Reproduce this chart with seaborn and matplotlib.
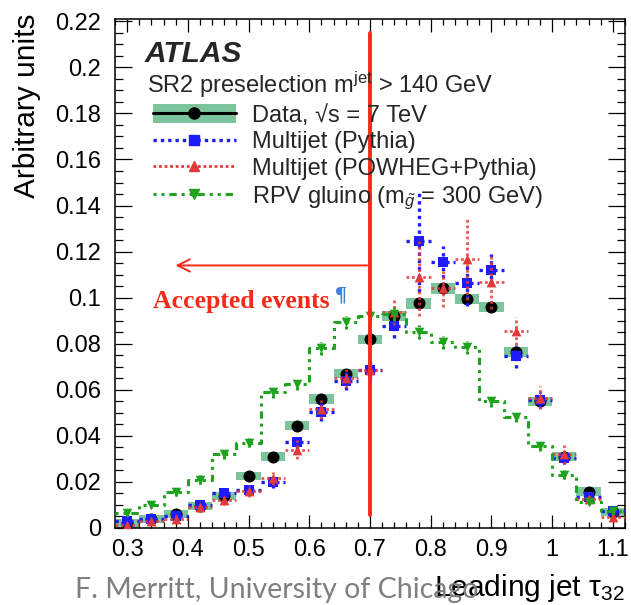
import numpy as np
import matplotlib
matplotlib.use("Agg")
import matplotlib.pyplot as plt
import seaborn as sns
from matplotlib.patches import Rectangle
from matplotlib.lines import Line2D
from matplotlib.legend_handler import HandlerTuple
from matplotlib.ticker import MultipleLocator, FormatStrFormatter

# Leading-jet tau32 bins (centres and edges)
bin_centers = [0.30, 0.34, 0.38, 0.42, 0.46, 0.50, 0.54, 0.58, 0.62, 0.66, 0.70,
               0.74, 0.78, 0.82, 0.86, 0.90, 0.94, 0.98, 1.02, 1.06, 1.10]
bin_edges = [0.28, 0.32, 0.36, 0.40, 0.44, 0.48, 0.52, 0.56, 0.60, 0.64, 0.68,
             0.72, 0.76, 0.80, 0.84, 0.88, 0.92, 0.96, 1.00, 1.04, 1.08, 1.12]

# Data, sqrt(s) = 7 TeV
data_vals = [0.002, 0.004, 0.006, 0.0095, 0.014, 0.0225, 0.031, 0.0445, 0.056, 0.067, 0.082,
             0.092, 0.0975, 0.104, 0.0995, 0.096, 0.0765, 0.055, 0.031, 0.0158, 0.007]
data_err = [0.0018, 0.0018, 0.0018, 0.0018, 0.0018, 0.0018, 0.0018, 0.0018, 0.002, 0.002, 0.002,
            0.0022, 0.0022, 0.0022, 0.0022, 0.0022, 0.0022, 0.002, 0.0018, 0.0018, 0.0018]

# Multijet (Pythia)
pythia_vals = [0.003, 0.004, 0.005, 0.010, 0.015, 0.0165, 0.020, 0.0375, 0.0505, 0.064, 0.0685,
               0.0875, 0.1245, 0.1155, 0.1065, 0.112, 0.0745, 0.0555, 0.0305, 0.0135, 0.0075]
pythia_err = [0.001, 0.001, 0.001, 0.0015, 0.0015, 0.002, 0.0025, 0.003, 0.004, 0.004, 0.004,
              0.005, 0.022, 0.007, 0.010, 0.007, 0.005, 0.0035, 0.0025, 0.002, 0.0012]

# Multijet (POWHEG+Pythia)
powheg_vals = [0.0013, 0.003, 0.004, 0.009, 0.012, 0.016, 0.0215, 0.034, 0.0515, 0.065, 0.0685,
               0.094, 0.109, 0.104, 0.117, 0.107, 0.0855, 0.0565, 0.032, 0.0125, 0.0048]
powheg_err = [0.001, 0.001, 0.0015, 0.002, 0.002, 0.0025, 0.003, 0.004, 0.004, 0.004, 0.005,
              0.006, 0.017, 0.008, 0.018, 0.012, 0.006, 0.005, 0.004, 0.002, 0.0015]

# RPV gluino (m = 300 GeV)
rpv_vals = [0.0065, 0.010, 0.0155, 0.021, 0.032, 0.037, 0.059, 0.0625, 0.078, 0.0893, 0.092,
            0.093, 0.085, 0.0806, 0.0784, 0.055, 0.0484, 0.0358, 0.0232, 0.0113, 0.0072]
rpv_err = [0.0015, 0.0015, 0.0018, 0.002, 0.002, 0.002, 0.0025, 0.0025, 0.0028, 0.0028, 0.003,
           0.003, 0.003, 0.0028, 0.0028, 0.0025, 0.0025, 0.0022, 0.002, 0.0015, 0.0012]

cut_value = 0.70
arrow_tip = 0.375
arrow_level = 0.114

x_ticks = [0.3, 0.4, 0.5, 0.6, 0.7, 0.8, 0.9, 1.0, 1.1]

BAND = "#7cc49c"
BLUE = "#1c1cff"
RED = "#e23a3a"
GREEN = "#1fa31f"
CUT = "#f72a17"
GREEN_LS = (0, (1.0, 1.6, 1.0, 1.6, 2.4, 1.6))

sns.set_theme(style="ticks")
plt.rcParams["font.family"] = ["Liberation Sans", "DejaVu Sans"]
plt.rcParams["mathtext.fontset"] = "custom"
plt.rcParams["mathtext.rm"] = "Liberation Sans"
plt.rcParams["mathtext.it"] = "Liberation Sans:italic"
plt.rcParams["mathtext.bf"] = "Liberation Sans:bold"

W, H = 631, 605
fig = plt.figure(figsize=(W / 100, H / 100), dpi=100)
ax = fig.add_axes([115 / W, 1 - 528 / H, 510 / W, 509 / H])

x = np.array(bin_centers)
half_bin = 0.02

# data: systematic band + points
d = np.array(data_vals)
de = np.array(data_err)
ax.bar(x, 2 * de, bottom=d - de, width=2 * half_bin, color=BAND, linewidth=0, zorder=2)
sns.scatterplot(x=x, y=d, ax=ax, color="black", marker="o", s=75, edgecolor="black",
                linewidth=0, zorder=3, legend=False)

# Pythia multijet
eb = ax.errorbar(x, pythia_vals, yerr=pythia_err, xerr=half_bin, fmt="none",
                 ecolor=BLUE, elinewidth=2.4, zorder=4)
for c in eb[2]:
    c.set_linestyle((0, (1, 1.2)))
sns.scatterplot(x=x, y=pythia_vals, ax=ax, color=BLUE, marker="s", s=48,
                edgecolor=BLUE, linewidth=0, zorder=5, legend=False)

# POWHEG+Pythia multijet
eb = ax.errorbar(x, powheg_vals, yerr=powheg_err, xerr=half_bin, fmt="none",
                 ecolor=RED, elinewidth=2.0, zorder=6, alpha=0.85)
for c in eb[2]:
    c.set_linestyle((0, (1, 1)))
sns.scatterplot(x=x, y=powheg_vals, ax=ax, color=RED, marker="^", s=50,
                edgecolor=RED, linewidth=0, zorder=7, legend=False)

# RPV gluino signal
sns.histplot(x=x, weights=rpv_vals, bins=bin_edges, element="step", fill=False,
             color=GREEN, linewidth=2.2, linestyle=GREEN_LS, ax=ax, zorder=8)
eb = ax.errorbar(x, rpv_vals, yerr=rpv_err, fmt="none", ecolor=GREEN, elinewidth=2.2, zorder=8)
for c in eb[2]:
    c.set_linestyle((0, (1, 1)))
sns.scatterplot(x=x, y=rpv_vals, ax=ax, color=GREEN, marker="v", s=48,
                edgecolor=GREEN, linewidth=0, zorder=9, legend=False)

# selection cut
ax.axvline(cut_value, ymin=0.025, ymax=0.972, color=CUT, lw=2.8, zorder=20)
ax.annotate("", xy=(arrow_tip, arrow_level), xytext=(cut_value, arrow_level),
            arrowprops=dict(arrowstyle="->", color=CUT, lw=1.4, mutation_scale=22),
            zorder=20)
ax.text(0.343, 0.0985, "Accepted events", color=CUT, fontsize=18.5, fontweight="bold",
        family=["Liberation Serif", "DejaVu Serif"], va="center", ha="left", zorder=20)
ax.text(0.642, 0.1008, "\u00b6", color="#3d82d8", fontsize=16, fontweight="bold",
        va="center", ha="left", family=["Liberation Serif", "DejaVu Serif"], zorder=20)

# axes
ax.set_xlim(0.28, 1.12)
ax.set_ylim(0, 0.221)
ax.set_xticks(x_ticks)
ax.xaxis.set_major_formatter(FormatStrFormatter("%g"))
ax.xaxis.set_minor_locator(MultipleLocator(0.02))
ax.yaxis.set_major_locator(MultipleLocator(0.02))
ax.yaxis.set_minor_locator(MultipleLocator(0.005))
ax.yaxis.set_major_formatter(FormatStrFormatter("%g"))
ax.tick_params(axis="both", which="both", direction="in", top=True, right=True,
               color="black", width=0.9, labelsize=17, labelcolor="black")
ax.tick_params(axis="x", which="major", length=9.5, pad=8)
ax.tick_params(axis="x", which="minor", length=4.5)
ax.tick_params(axis="y", which="major", length=12, pad=10)
ax.tick_params(axis="y", which="minor", length=6)
for s in ax.spines.values():
    s.set_linewidth(1.1)
    s.set_color("black")

ax.set_ylabel("Arbitrary units", fontsize=21.5, color="black", loc="top")
ax.yaxis.set_label_coords(-0.145, 1.01)
ax.set_xlabel("")
fig.text(625 / W, 1 - 588 / H, "Leading jet \u03c4$_{32}$", fontsize=21.5, color="black",
         ha="right", va="center")

# footer
fig.text(75 / W, 1 - 590 / H, "F. Merritt, University of Chicago", fontsize=20.5,
         color="#7f7f7f", family=["Lato", "DejaVu Sans"], ha="left", va="center")

# experiment label
fig.text(145 / W, 1 - 54 / H, "ATLAS", fontsize=21.5, fontweight="bold", fontstyle="italic",
         ha="left", va="center")
fig.text(147 / W, 1 - 85 / H, "SR2 preselection m$^{\\mathrm{jet}}$ > 140 GeV", fontsize=17,
         ha="left", va="center")

# legend
h_data = (Rectangle((0, 0), 1, 1, facecolor=BAND, edgecolor="none"),
          Line2D([], [], color="black", lw=2.2, marker="o", markersize=8))
h_py = Line2D([], [], color=BLUE, lw=2.4, ls=(0, (1, 1.2)), marker="s", markersize=7)
h_pw = Line2D([], [], color=RED, lw=2.0, ls=(0, (1, 1)), marker="^", markersize=7)
h_rpv = Line2D([], [], color=GREEN, lw=2.2, ls=GREEN_LS, marker="v", markersize=7)
leg = fig.legend([h_data, h_py, h_pw, h_rpv],
                 ["Data, \u221as = 7 TeV", "Multijet (Pythia)", "Multijet (POWHEG+Pythia)",
                  "RPV gluino (m$_{\\tilde{g}}$ = 300 GeV)"],
                 handler_map={tuple: HandlerTuple(ndivide=1, pad=0)},
                 loc="upper left", bbox_to_anchor=(153 / W, 1 - 104 / H),
                 frameon=False, fontsize=17, handlelength=3.5, handleheight=0.85,
                 handletextpad=0.7, labelspacing=0.18, borderpad=0, borderaxespad=0)

fig.savefig("out.png", dpi=100)
